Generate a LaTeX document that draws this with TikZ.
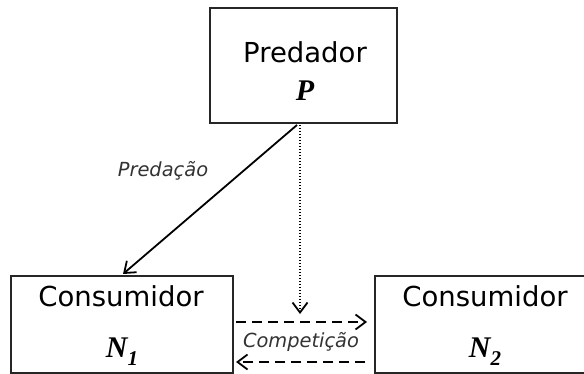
\documentclass[tikz,border=0pt]{standalone}
\usepackage{fontspec}
\setmainfont{DejaVu Sans}
\newfontfamily\lserif{Liberation Serif}
\usetikzlibrary{arrows.meta}
\tikzset{
  box/.style={draw, line width=2pt, rectangle, inner sep=0pt, draw=black!85},
  lbl/.style={font=\fontsize{27.5}{29}\selectfont, inner sep=0pt},
  sym/.style={font=\lserif\bfseries\itshape\fontsize{30}{31}\selectfont, inner sep=0pt},
  ital/.style={font=\itshape\fontsize{19.4}{21}\selectfont, inner sep=0pt, text=black!80},
  arr/.style={line width=1.8pt, -{Straight Barb[length=10pt,width=15pt,line width=1.8pt]}},
}
\begin{document}
\begin{tikzpicture}[x=1pt,y=-1pt]
\useasboundingbox (0,0) rectangle (584,374);
\fill[white] (0,0) rectangle (584,374);
% boxes
\node[box, minimum width=187pt, minimum height=115pt] (pred) at (303.5,65.5) {};
\node[box, minimum width=222pt, minimum height=97pt] (c1) at (122,324.5) {};
\node[box, minimum width=225pt, minimum height=97pt] (c2) at (487.5,324.5) {};
% texts
\node[lbl] (tpred) at (305,52) {Predador};
\node[sym] (tP) at (305,91) {P};
\node[lbl] (tc1) at (121,296) {Consumidor};
\node[sym] (tN1) at (122,352) {N\raisebox{-8pt}{\fontsize{21}{21}\selectfont 1}};
\node[lbl] (tc2) at (485,296) {Consumidor};
\node[sym] (tN2) at (485,352) {N\raisebox{-8pt}{\fontsize{21}{21}\selectfont 2}};
\node[ital] (tpreda) at (163,171) {Predação};
\node[ital] (tcomp) at (301,342) {Competição};
% connector ends
\coordinate (s1) at (297,125);
\coordinate (e1) at (123,274);
\coordinate (s2) at (300,125);
\coordinate (e2) at (300,314);
\coordinate (s3) at (236,322);
\coordinate (e3) at (367,322);
\coordinate (s4) at (365,362);
\coordinate (e4) at (236,362);
% connectors
\draw[arr] (s1) -- (e1);
\draw[arr, line width=1.4pt, dash pattern=on 1.4pt off 1.6pt] (s2) -- (e2);
\draw[arr, dash pattern=on 10pt off 6pt] (s3) -- (e3);
\draw[arr, dash pattern=on 10pt off 6pt] (s4) -- (e4);
\end{tikzpicture}
\end{document}
